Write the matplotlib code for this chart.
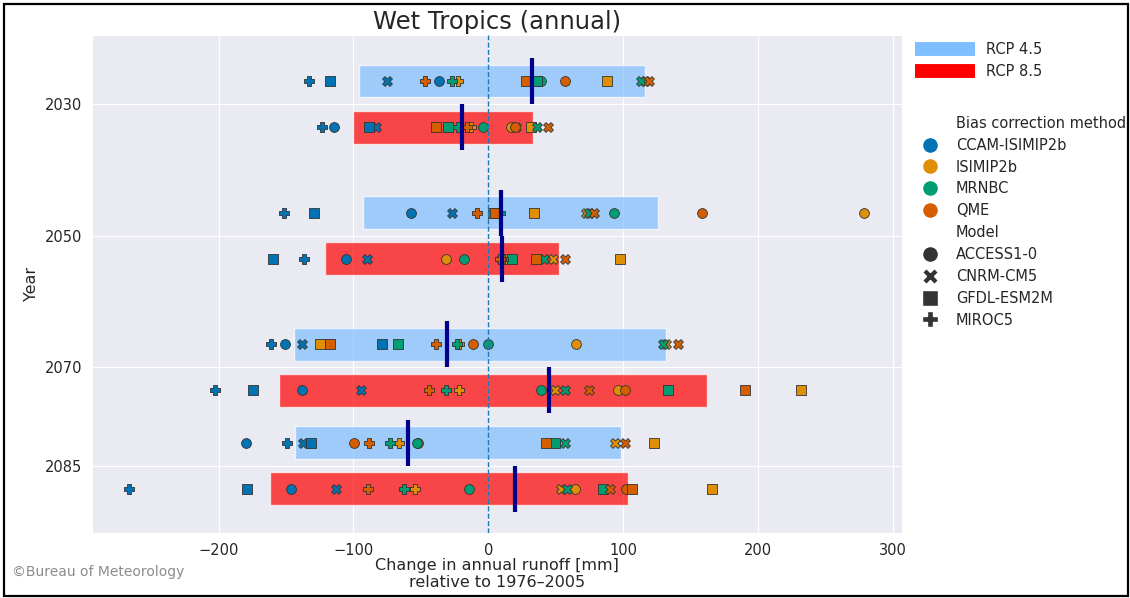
import numpy as np
import matplotlib.pyplot as plt
from matplotlib.lines import Line2D
from matplotlib.patches import Rectangle
import seaborn as sns

# --- data -----------------------------------------------------------------
periods = [2030, 2050, 2070, 2085]
methods = ['CCAM-ISIMIP2b', 'ISIMIP2b', 'MRNBC', 'QME']
models = ['ACCESS1-0', 'CNRM-CM5', 'GFDL-ESM2M', 'MIROC5']
scenarios = ['RCP 4.5', 'RCP 8.5']

# change in annual runoff [mm], one row per period, columns follow `models`
ccam_45 = [[-36.4, -75.1, -117.3, -133.2],
           [-57.3, -26.9, -129.0, -151.8],
           [-150.7, -138.1, -78.6, -160.9],
           [-179.5, -137.4, -131.3, -149.5]]
isimip_45 = [[38.0, 116.0, 88.4, -22.8],
             [279.0, 72.5, 33.8, 6.5],
             [64.9, 131.7, -124.9, -21.6],
             [-52.4, 94.1, 123.0, -66.4]]
mrnbc_45 = [[39.5, 113.0, 36.0, -26.6],
            [93.4, 75.0, 3.8, 8.5],
            [0.0, 130.0, -66.8, -23.0],
            [-53.0, 57.3, 49.3, -72.9]]
qme_45 = [[57.3, 119.0, 28.1, -47.1],
          [158.3, 78.6, 5.0, -8.3],
          [-11.0, 140.8, -117.3, -38.7],
          [-99.4, 101.3, 42.9, -88.4]]

ccam_85 = [[-114.6, -83.1, -88.4, -123.0],
           [-105.9, -89.6, -159.4, -137.0],
           [-138.1, -94.1, -174.6, -202.7],
           [-146.1, -113.1, -178.7, -266.8]]
isimip_85 = [[17.0, 20.9, 31.5, -13.0],
             [-31.5, 48.2, 97.5, 12.5],
             [96.0, 49.7, 232.3, -21.6],
             [64.5, 54.3, 165.8, -54.3]]
mrnbc_85 = [[-4.2, 36.0, -30.0, -22.8],
            [-18.2, 41.4, 17.5, 11.0],
            [39.5, 56.9, 133.6, -31.5],
            [-14.4, 58.8, 85.0, -62.6]]
qme_85 = [[19.5, 44.0, -39.1, -16.0],
          [9.1, 56.9, 35.3, 9.0],
          [101.3, 75.1, 190.5, -44.0],
          [102.5, 90.7, 106.3, -89.2]]

# ensemble range (bar) and median per period
low_45 = [-96.0, -92.6, -143.8, -143.1]
high_45 = [116.0, 125.6, 131.7, 98.3]
median_45 = [32.6, 9.1, -30.7, -59.6]
low_85 = [-100.6, -121.0, -155.6, -162.0]
high_85 = [33.0, 52.8, 162.0, 104.0]
median_85 = [-19.4, 10.2, 44.8, 19.7]

# --- style ----------------------------------------------------------------
sns.set_style('darkgrid')
plt.rcParams['font.family'] = ['DejaVu Sans']

method_colors = ['#0173b2', '#de8f05', '#029e73', '#d55e00']
model_markers = ['o', 'X', 's', 'P']
bar_colors = [(0.5, 0.75, 1.0), (1.0, 0.0, 0.0)]
offsets = [-3.5, 3.5]

fig = plt.figure(figsize=(11.3, 5.98), dpi=100)
fig.add_artist(Rectangle((4 / 1130, 2 / 598), 1124 / 1130, 592 / 598,
                         transform=fig.transFigure, fill=False, lw=1.6,
                         edgecolor='black'))
ax = fig.add_axes([92 / 1130, 1 - 533 / 598, 810 / 1130, 498 / 598])

runs = {
    'RCP 4.5': [ccam_45, isimip_45, mrnbc_45, qme_45],
    'RCP 8.5': [ccam_85, isimip_85, mrnbc_85, qme_85],
}
lows = [low_45, low_85]
highs = [high_45, high_85]
medians = [median_45, median_85]

for s, scen in enumerate(scenarios):
    y = np.array(periods) + offsets[s]
    lo = np.array(lows[s])
    hi = np.array(highs[s])
    ax.barh(y, hi - lo, left=lo, height=5, color=bar_colors[s], alpha=0.7,
            zorder=1)
    ax.vlines(medians[s], y - 3.5, y + 3.5, color='darkblue', lw=3, zorder=4)
    for m, method_vals in enumerate(runs[scen]):
        vals = np.array(method_vals)
        for k, marker in enumerate(model_markers):
            ax.scatter(vals[:, k], y, s=50, marker=marker, color=method_colors[m],
                       edgecolor='0.2', linewidth=0.6, zorder=3)

ax.axvline(0, color='#1f77b4', ls='--', lw=1, zorder=5)

ax.set_xlim(-294, 307)
ax.set_ylim(2095.2, 2019.5)
ax.set_xticks([-200, -100, 0, 100, 200, 300])
ax.set_yticks(periods)
ax.tick_params(labelsize=10.5)
ax.set_ylabel('Year', fontsize=11.5, labelpad=4)
ax.set_xlabel('Change in annual runoff [mm]\nrelative to 1976–2005', fontsize=11.5,
              labelpad=0)
ax.set_title('Wet Tropics (annual)', fontsize=17.5, pad=4)

# scenario legend
scen_handles = [Line2D([], [], color=c, lw=10, solid_capstyle='butt')
                for c in bar_colors]
leg1 = ax.legend(scen_handles, scenarios, loc='upper left', frameon=False,
                 bbox_to_anchor=(1.0, 1.013), fontsize=10.5, handlelength=4.1,
                 handletextpad=0.75)
ax.add_artist(leg1)

# bias correction / model legend
blank = Line2D([], [], ls='none')
handles = [blank]
labels = ['Bias correction method']
for c, name in zip(method_colors, methods):
    handles.append(Line2D([], [], ls='none', marker='o', markersize=11.5,
                          color=c, markeredgecolor='white'))
    labels.append(name)
handles.append(blank)
labels.append('Model')
for mk, name in zip(model_markers, models):
    handles.append(Line2D([], [], ls='none', marker=mk, markersize=11.5,
                          color='0.2', markeredgecolor='white'))
    labels.append(name)
ax.legend(handles, labels, loc='upper left', frameon=False,
          bbox_to_anchor=(1.0, 0.864), fontsize=10.5, labelspacing=0.47)

fig.text(12 / 1130, 1 - 572 / 598, '©Bureau of Meteorology', fontsize=10,
         color='0.55', va='center')

fig.savefig('out.png', dpi=100)
